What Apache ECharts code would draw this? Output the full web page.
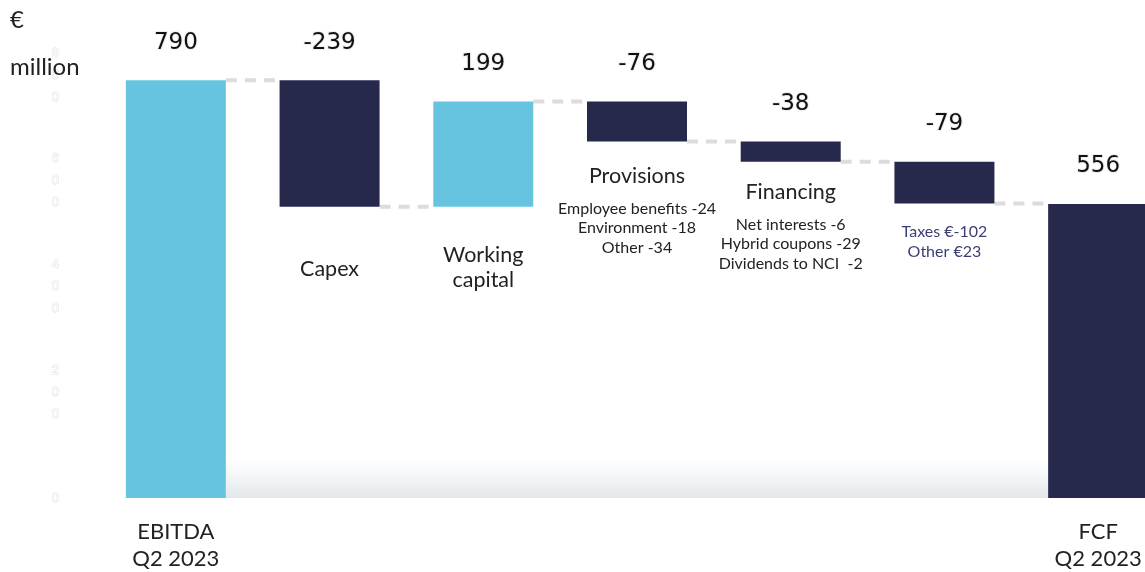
<!DOCTYPE html>
<html>
<head>
<meta charset="utf-8">
<script src="https://cdn.jsdelivr.net/npm/echarts@6/dist/echarts.min.js"></script>
<style>
  html, body { margin: 0; padding: 0; background: #fff; }
  #main { width: 1145px; height: 572px; }
</style>
</head>
<body>
<div id="main"></div>
<script>
// 数据
let categories = ['EBITDA\nQ2 2023', 'Capex', 'Working\ncapital', 'Provisions', 'Financing', '', 'FCF\nQ2 2023']
let values = [790, -239, 199, -76, -38, -79, 556]
let details = [
    [],
    [],
    [],
    ['Employee benefits -24', 'Environment -18', 'Other -34'],
    ['Net interests -6', 'Hybrid coupons -29', 'Dividends to NCI  -2'],
    ['Taxes €-102', 'Other €23'],
    []
]
let yTicks = [0, 200, 400, 600, 800]

// 样式
let lightBlue = '#66c4e0'
let navy = '#26284c'
let barWidth = 100
let labelGaps = [0, 50, 36, 12, 8, 18, 0]

// 计算瀑布图的底座和高度
let bases = [], heights = [], levels = []
let total = 0
values.forEach(function (v, i) {
    if (i === 0 || i === values.length - 1) {
        bases.push(0)
        heights.push(v)
        total = v
    } else {
        let next = total + v
        bases.push(Math.min(total, next))
        heights.push(Math.abs(v))
        total = next
    }
    levels.push(total)
})

let myChart = echarts.init(document.getElementById('main'))

myChart.setOption({
    animation: false,
    title: {
        text: '€\nmillion',
        left: 10,
        top: -3,
        padding: 0,
        textStyle: {
            fontFamily: 'Lato',
            fontSize: 24,
            fontWeight: 'normal',
            lineHeight: 47,
            color: '#222'
        }
    },
    // 最后一根柱子在右侧被裁掉一部分
    grid: { left: 99, right: -30, top: 75, bottom: 74, outerBoundsMode: 'none', containLabel: false },
    xAxis: {
        type: 'category',
        data: categories,
        axisLine: { show: false },
        axisTick: { show: false },
        axisLabel: {
            interval: 0,
            margin: 20,
            fontFamily: 'Lato',
            fontSize: 22,
            lineHeight: 27,
            color: '#222',
            formatter: function (v, i) {
                return (i === 0 || i === categories.length - 1) ? v : ''
            }
        }
    },
    yAxis: {
        type: 'value',
        min: yTicks[0],
        max: yTicks[yTicks.length - 1],
        interval: 200,
        splitLine: { show: false },
        axisLabel: {
            margin: 40,
            fontSize: 13,
            lineHeight: 22,
            color: '#fff',
            textBorderColor: '#e0e0e0',
            textBorderWidth: 1,
            formatter: function (v) {
                return String(v).split('').join('\n')
            }
        }
    },
    series: [
        {
            // 底部渐变背景
            type: 'custom',
            z: 1,
            silent: true,
            data: [[0]],
            renderItem: function (params, api) {
                let p0 = api.coord([0, 0])
                let p1 = api.coord([categories.length - 1, 72])
                let x0 = p0[0] + barWidth / 2
                let x1 = p1[0] - barWidth / 2
                return {
                    type: 'rect',
                    shape: { x: x0, y: p1[1], width: x1 - x0, height: p0[1] - p1[1] },
                    style: {
                        fill: new echarts.graphic.LinearGradient(0, 0, 0, 1, [
                            { offset: 0, color: 'rgba(255,255,255,1)' },
                            { offset: 1, color: '#e4e8eb' }
                        ])
                    }
                }
            }
        },
        {
            // 透明底座，显示分类名称
            type: 'bar',
            stack: 'wf',
            barWidth: barWidth,
            z: 3,
            itemStyle: { color: 'transparent' },
            data: bases.map(function (b, i) {
                let name = categories[i]
                let lines = []
                let hasDetails = details[i].length > 0
                if (i > 0 && i < categories.length - 1) {
                    if (name) {
                        let style = hasDetails ? 'head' : 'name'
                        lines.push('{' + style + '|' + name.split('\n').join('}\n{' + style + '|') + '}')
                    }
                    details[i].forEach(function (d) {
                        lines.push('{' + (i === 5 ? 'tax' : 'det') + '|' + d + '}')
                    })
                }
                return {
                    value: b,
                    label: {
                        show: lines.length > 0,
                        position: 'insideTop',
                        distance: labelGaps[i],
                        formatter: lines.join('\n'),
                        rich: {
                            name: { fontFamily: 'Lato', fontSize: 21.5, lineHeight: 25, color: '#222', align: 'center' },
                            head: { fontFamily: 'Lato', fontSize: 21.5, lineHeight: 45, color: '#222', align: 'center' },
                            det: { fontFamily: 'Lato', fontSize: 16, lineHeight: 19.5, color: '#222', align: 'center' },
                            tax: { fontFamily: 'Lato', fontSize: 16, lineHeight: 20, color: '#3b3f72', align: 'center' }
                        }
                    }
                }
            })
        },
        {
            // 可见柱子
            type: 'bar',
            stack: 'wf',
            barWidth: barWidth,
            z: 3,
            data: heights.map(function (h, i) {
                return {
                    value: h,
                    itemStyle: { color: (values[i] > 0 && i < values.length - 1) ? lightBlue : navy }
                }
            }),
            label: {
                show: true,
                position: 'top',
                distance: 26,
                fontFamily: 'DejaVu Sans',
                fontSize: 23,
                color: '#111',
                textBorderColor: '#eee',
                textBorderWidth: 2,
                formatter: function (p) {
                    return String(values[p.dataIndex])
                }
            }
        },
        {
            // 虚线连接
            type: 'custom',
            z: 2,
            silent: true,
            data: levels.slice(0, levels.length - 1).map(function (l, i) { return [i, l] }),
            renderItem: function (params, api) {
                let i = api.value(0)
                let a = api.coord([i, api.value(1)])
                let b = api.coord([i + 1, api.value(1)])
                return {
                    type: 'line',
                    shape: { x1: a[0] + barWidth / 2, y1: a[1], x2: b[0] - barWidth / 2, y2: b[1] },
                    style: { stroke: '#dcdcdc', lineWidth: 4, lineDash: [11, 8] }
                }
            }
        }
    ]
})
</script>
</body>
</html>
